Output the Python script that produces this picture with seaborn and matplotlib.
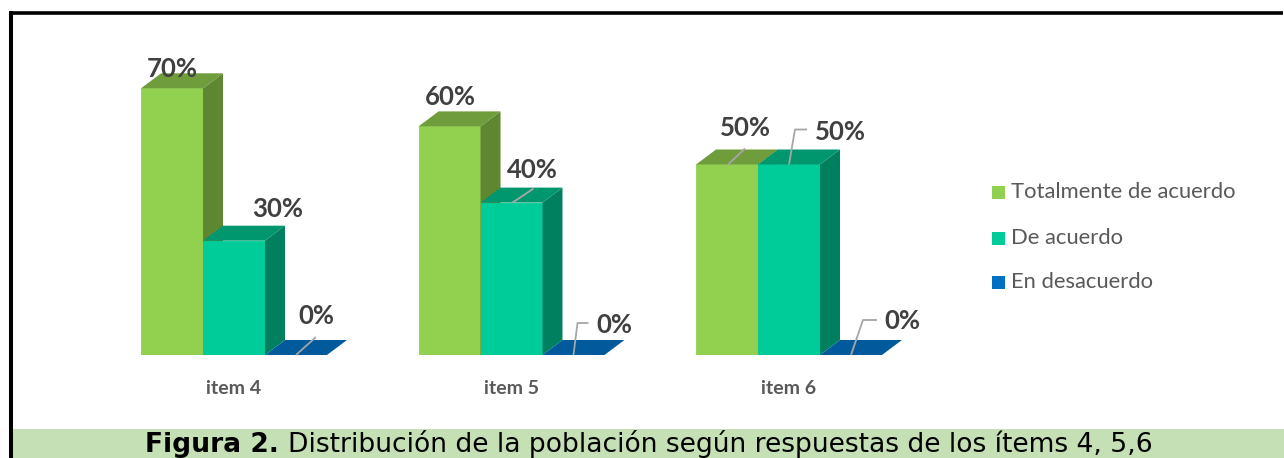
import numpy as np
import pandas as pd
import seaborn as sns
import matplotlib
matplotlib.use("Agg")
import matplotlib.pyplot as plt
from matplotlib.patches import Polygon, Rectangle

# ---------------- data ----------------
items = ["item 4", "item 5", "item 6"]
series = ["Totalmente de acuerdo", "De acuerdo", "En desacuerdo"]
totalmente = [70, 60, 50]
de_acuerdo = [30, 40, 50]
desacuerdo = [0, 0, 0]
caption_bold = "Figura 2."
caption_text = "Distribución de la población según respuestas de los ítems 4, 5,6"

# ---------------- styles ----------------
front_cols = ["#92D050", "#00CC99", "#0070C0"]
top_cols = ["#6F9D3C", "#00976F", "#005A9C"]
side_cols = ["#5F8630", "#00805E", "#004F8A"]
legend_cols = ["#92D050", "#00CC99", "#0070C0"]

W, H, DPI = 12.84, 4.58, 100
FW, FH = W * DPI, H * DPI

sns.set_theme(style="white")
plt.rcParams["font.family"] = ["Lato", "DejaVu Sans"]

df = pd.DataFrame({
    "item": items * 3,
    "respuesta": [series[0]] * 3 + [series[1]] * 3 + [series[2]] * 3,
    "valor": totalmente + de_acuerdo + desacuerdo,
})

fig = plt.figure(figsize=(W, H), dpi=DPI)
# axes geometry (pixels)
px_per_x = 277.5
px_per_y = 3.81
ax_left_px = 234 - 0.6 * px_per_x
ax_w_px = 3.6 * px_per_x
base_px = 355
ax_h_px = 80 * px_per_y
ax = fig.add_axes([ax_left_px / FW, (FH - base_px) / FH, ax_w_px / FW, ax_h_px / FH])

sns.barplot(data=df, x="item", y="valor", hue="respuesta", hue_order=series,
            order=items, palette=front_cols, width=0.67, saturation=1,
            linewidth=0, legend=False, ax=ax, errorbar=None)
ax.set_xlim(-0.6, 3.0)
ax.set_ylim(0, 80)
for s in ax.spines.values():
    s.set_visible(False)
ax.set_yticks([])
ax.set_xlabel("")
ax.set_ylabel("")
ax.tick_params(axis="x", length=0, pad=18)
for lab in ax.get_xticklabels():
    lab.set_fontweight("bold")
    lab.set_color("#595959")
    lab.set_fontsize(14)

ddx = 20 / px_per_x
ddy = 15 / px_per_y

def pdx(p):
    return p / px_per_x

def pdy(p):
    return -p / px_per_y

# label offsets (pixels, relative to front top centre) and leader paths
label_off = {
    (0, 0): ((0, -19), None),
    (0, 1): ((44, -32), None),
    (0, 2): ((20, -39), [(0, 0), (20, -18)]),
    (1, 0): ((1, -29), None),
    (1, 1): ((21, -33), [(1, 0), (22, -14)]),
    (1, 2): ((41, -30), [(0, 0), (4, -32), (15, -32)]),
    (2, 0): ((18, -37), [(1, 0), (18, -16)]),
    (2, 1): ((51, -33), [(0, 0), (6, -35), (18, -35)]),
    (2, 2): ((51, -34), [(0, 0), (12, -35), (26, -35)]),
}

for k, cont in enumerate(ax.containers):
    for i, bar in enumerate(cont.patches):
        bar.set_zorder(10 + 3 * k)
        bar.set_edgecolor(bar.get_facecolor())
        bar.set_linewidth(0.6)
        x0 = bar.get_x()
        w = bar.get_width()
        h = bar.get_height()
        top = Polygon([(x0, h), (x0 + w, h), (x0 + w + ddx, h + ddy), (x0 + ddx, h + ddy)],
                      closed=True, facecolor=top_cols[k], edgecolor="none", zorder=11 + 3 * k,
                      clip_on=False)
        side = Polygon([(x0 + w, 0), (x0 + w + ddx, ddy), (x0 + w + ddx, h + ddy), (x0 + w, h)],
                       closed=True, facecolor=side_cols[k], edgecolor="none", zorder=11 + 3 * k,
                       clip_on=False)
        ax.add_patch(side)
        ax.add_patch(top)
        cx = x0 + w / 2
        (ox, oy), leader = label_off[(i, k)]
        ax.text(cx + pdx(ox), h + pdy(oy), f"{h:.0f}%", ha="center", va="center",
                fontsize=18.5, fontweight="bold", color="#404040", zorder=40, clip_on=False)
        if leader:
            xs = [cx + pdx(p[0]) for p in leader]
            ys = [h + pdy(p[1]) for p in leader]
            ax.plot(xs, ys, color="#A6A6A6", lw=1.3, zorder=39, clip_on=False,
                    solid_capstyle="butt")

# legend (manual)
leg_y = [192, 238, 282]
for name, col, yy in zip(series, legend_cols, leg_y):
    fig.patches.append(Rectangle((992 / FW, (FH - yy - 6.5) / FH), 13 / FW, 13 / FH,
                                 transform=fig.transFigure, facecolor=col, edgecolor="none"))
    fig.text(1011 / FW, (FH - yy) / FH, name, ha="left", va="center",
             fontsize=15.8, color="#595959")

# frame lines
fig.add_artist(plt.Line2D([9 / FW, 1283 / FW], [(FH - 12.5) / FH] * 2,
                          transform=fig.transFigure, color="black", lw=2.6,
                          solid_capstyle="butt"))
fig.add_artist(plt.Line2D([11 / FW, 11 / FW], [0, (FH - 11) / FH],
                          transform=fig.transFigure, color="black", lw=2.9,
                          solid_capstyle="butt"))
# caption band
fig.patches.append(Rectangle((12.5 / FW, 0), (FW - 12.5) / FW, 29 / FH,
                             transform=fig.transFigure, facecolor="#C5E0B4", edgecolor="none"))
t1 = fig.text(145 / FW, 6 / FH, caption_bold, ha="left", va="baseline",
              fontsize=19.1, fontweight="bold", color="black", family="DejaVu Sans")
fig.canvas.draw()
bb = t1.get_window_extent(fig.canvas.get_renderer())
fig.text((bb.x1 + 9) / FW, 6 / FH, caption_text, ha="left", va="baseline",
         fontsize=19.1, color="black", family="DejaVu Sans")

fig.savefig("out.png", dpi=DPI)
